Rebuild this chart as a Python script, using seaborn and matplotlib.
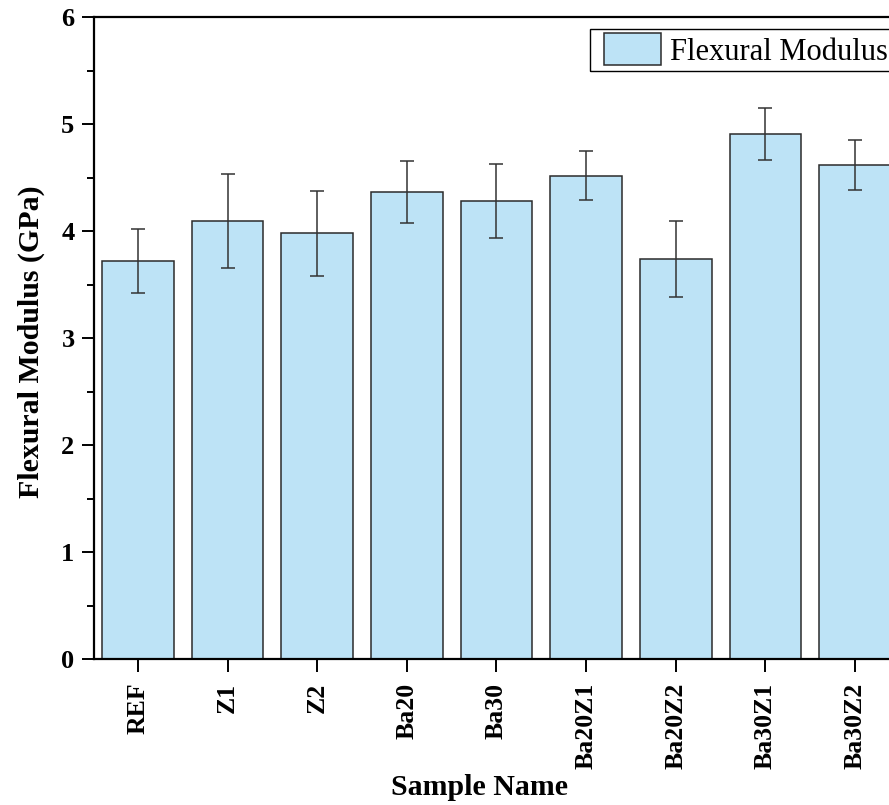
import matplotlib
matplotlib.use("Agg")
import matplotlib.pyplot as plt
from matplotlib.ticker import MultipleLocator
from matplotlib.patches import Rectangle
import seaborn as sns
import pandas as pd

# Flexural modulus per sample (mean and standard deviation, GPa)
samples = ["REF", "Z1", "Z2", "Ba20", "Ba30", "Ba20Z1", "Ba20Z2", "Ba30Z1", "Ba30Z2"]
modulus = [3.72, 4.10, 3.98, 4.37, 4.28, 4.52, 3.74, 4.91, 4.62]
modulus_sd = [0.30, 0.44, 0.40, 0.29, 0.345, 0.23, 0.355, 0.24, 0.23]

sns.set_theme(style="ticks")
plt.rcParams["font.family"] = ["Liberation Serif", "DejaVu Serif"]
plt.rcParams["text.color"] = "black"
plt.rcParams["axes.labelcolor"] = "black"
plt.rcParams["xtick.color"] = "black"
plt.rcParams["ytick.color"] = "black"

df = pd.DataFrame({"Sample": samples, "Modulus": modulus, "SD": modulus_sd})

W, H = 889, 805
fig = plt.figure(figsize=(W / 100, H / 100), dpi=100)
ax = fig.add_axes([0.1057, 0.1814, 0.9055, 0.797])

fill = "#bde3f6"
edge = "#2b2b2b"
sns.barplot(data=df, x="Sample", y="Modulus", color=fill, saturation=1,
            edgecolor=edge, linewidth=1.1, width=0.8, errorbar=None,
            label="Flexural Modulus", ax=ax)

pos = list(range(len(samples)))
ax.errorbar(pos, df["Modulus"], yerr=df["SD"], fmt="none",
            ecolor="#333333", elinewidth=1.1, capsize=5, capthick=1.1)

ax.set_ylim(0, 6)
ax.set_xlim(-0.49, len(samples) - 0.51)
ax.yaxis.set_major_locator(MultipleLocator(1))
ax.yaxis.set_minor_locator(MultipleLocator(0.5))

for side in ["left", "bottom", "top", "right"]:
    ax.spines[side].set_linewidth(1.6)
    ax.spines[side].set_color("black")

ax.tick_params(axis="y", which="major", direction="out", length=9, width=1.4,
               labelsize=19, pad=5)
ax.tick_params(axis="y", which="minor", direction="out", length=5, width=1.4)
ax.tick_params(axis="x", which="major", direction="out", length=9, width=1.4,
               labelsize=18.5, pad=8, labelrotation=90)
for lbl in ax.get_xticklabels() + ax.get_yticklabels():
    lbl.set_fontweight("bold")

ax.set_xlabel("Sample Name", fontsize=21.5, fontweight="bold")
ax.set_ylabel("Flexural Modulus (GPa)", fontsize=21.5, fontweight="bold")
ax.xaxis.label.set_va("center")
ax.yaxis.label.set_va("center")
ax.xaxis.set_label_coords(0.479, -0.201)
ax.yaxis.set_label_coords(-0.078, 0.494)

# legend without its own frame; the frame is drawn as a separate box
leg = ax.legend(loc="upper left", bbox_to_anchor=(592 / W, 1 - 21 / H),
                bbox_transform=fig.transFigure, fontsize=22, frameon=False,
                handlelength=1.86, handleheight=1.24, handletextpad=0.3,
                borderpad=0.4, borderaxespad=0)
fig.patches.append(Rectangle((590 / W, 1 - 71 / H), 320 / W, 42 / H,
                             transform=fig.transFigure, fill=False,
                             edgecolor="black", linewidth=1.0, zorder=5))

fig.savefig("out.png", dpi=100)
